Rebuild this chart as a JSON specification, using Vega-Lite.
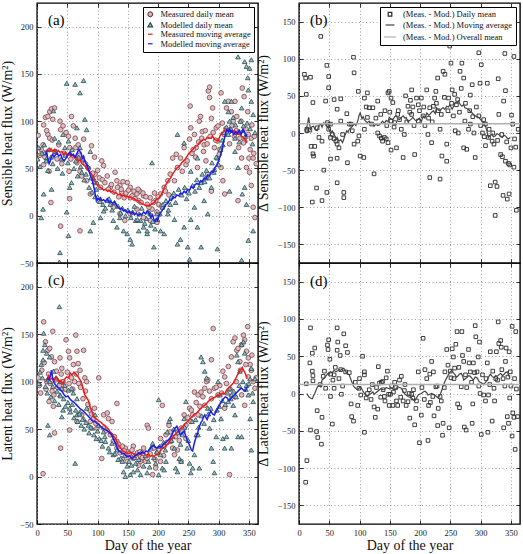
{
  "$schema": "https://vega.github.io/schema/vega-lite/v6.json",
  "background": "white",
  "padding": {"left": 0, "top": 1, "right": 3, "bottom": 0},
  "columns": 2,
  "spacing": {"row": 0, "column": 41},
  "bounds": "flush",
  "align": "each",
  "resolve": {
    "scale": {"stroke": "independent", "fill": "independent", "shape": "independent", "size": "independent"},
    "legend": {"stroke": "independent", "fill": "independent", "shape": "independent", "size": "independent"}
  },
  "datasets": {
    "sensMeas": [{"d":10,"v":75},{"d":11,"v":96},{"d":14,"v":104},{"d":21,"v":110},{"d":24,"v":113},{"d":29,"v":114},{"d":18,"v":105},{"d":26,"v":102},{"d":18,"v":86},{"d":21,"v":82},{"d":11,"v":54},{"d":20,"v":47},{"d":23,"v":14},{"d":39,"v":-11},{"d":38,"v":100},{"d":43,"v":95},{"d":39,"v":91},{"d":52,"v":84},{"d":57,"v":105},{"d":54,"v":72},{"d":63,"v":82},{"d":64,"v":72},{"d":68,"v":75},{"d":77,"v":81},{"d":71,"v":47},{"d":74,"v":42},{"d":90,"v":74},{"d":53,"v":47},{"d":54,"v":18},{"d":71,"v":-16},{"d":88,"v":23},{"d":82,"v":37},{"d":96,"v":44},{"d":107,"v":58},{"d":110,"v":53},{"d":116,"v":42},{"d":105,"v":30},{"d":101,"v":16},{"d":121,"v":30},{"d":129,"v":46},{"d":132,"v":37},{"d":137,"v":32},{"d":140,"v":25},{"d":144,"v":19},{"d":149,"v":35},{"d":154,"v":30},{"d":154,"v":19},{"d":160,"v":26},{"d":165,"v":23},{"d":168,"v":16},{"d":170,"v":26},{"d":176,"v":21},{"d":182,"v":12},{"d":187,"v":19},{"d":190,"v":7},{"d":196,"v":16},{"d":198,"v":4},{"d":201,"v":12},{"d":126,"v":9},{"d":137,"v":2},{"d":145,"v":-5},{"d":154,"v":2},{"d":165,"v":7},{"d":176,"v":-2},{"d":187,"v":-5},{"d":198,"v":-7},{"d":204,"v":23},{"d":210,"v":30},{"d":216,"v":37},{"d":220,"v":44},{"d":224,"v":61},{"d":230,"v":65},{"d":232,"v":51},{"d":237,"v":61},{"d":243,"v":72},{"d":246,"v":54},{"d":252,"v":81},{"d":254,"v":93},{"d":253,"v":116},{"d":260,"v":86},{"d":263,"v":72},{"d":265,"v":51},{"d":268,"v":100},{"d":270,"v":105},{"d":273,"v":89},{"d":276,"v":75},{"d":279,"v":58},{"d":282,"v":44},{"d":283,"v":132},{"d":285,"v":136},{"d":285,"v":125},{"d":288,"v":103},{"d":290,"v":114},{"d":293,"v":72},{"d":296,"v":93},{"d":298,"v":79},{"d":301,"v":65},{"d":304,"v":130},{"d":304,"v":51},{"d":307,"v":37},{"d":310,"v":23},{"d":313,"v":114},{"d":316,"v":121},{"d":321,"v":110},{"d":324,"v":100},{"d":327,"v":121},{"d":330,"v":105},{"d":332,"v":89},{"d":335,"v":82},{"d":338,"v":61},{"d":339,"v":135},{"d":342,"v":126},{"d":343,"v":79},{"d":346,"v":51},{"d":348,"v":110},{"d":350,"v":61},{"d":351,"v":46},{"d":354,"v":82},{"d":357,"v":61},{"d":359,"v":84},{"d":360,"v":-2},{"d":357,"v":9},{"d":354,"v":32},{"d":332,"v":16},{"d":288,"v":26},{"d":227,"v":37},{"d":100,"v":48},{"d":103,"v":40},{"d":108,"v":38},{"d":112,"v":35},{"d":118,"v":28},{"d":123,"v":33},{"d":127,"v":25},{"d":133,"v":30},{"d":135,"v":20},{"d":139,"v":28},{"d":142,"v":36},{"d":147,"v":24},{"d":151,"v":27},{"d":157,"v":21},{"d":162,"v":18},{"d":167,"v":28},{"d":172,"v":14},{"d":175,"v":24},{"d":180,"v":20},{"d":185,"v":9},{"d":192,"v":14},{"d":194,"v":24},{"d":200,"v":20},{"d":206,"v":10},{"d":212,"v":26},{"d":218,"v":22},{"d":2,"v":85},{"d":5,"v":64},{"d":7,"v":70},{"d":13,"v":62},{"d":16,"v":90},{"d":25,"v":80},{"d":30,"v":68},{"d":33,"v":60},{"d":36,"v":75},{"d":41,"v":55},{"d":45,"v":66},{"d":48,"v":88},{"d":56,"v":60},{"d":60,"v":95},{"d":66,"v":56},{"d":70,"v":64},{"d":75,"v":59},{"d":80,"v":55},{"d":85,"v":50},{"d":92,"v":45},{"d":95,"v":62},{"d":240,"v":47},{"d":248,"v":58},{"d":256,"v":66},{"d":258,"v":70},{"d":262,"v":62},{"d":267,"v":78},{"d":272,"v":82},{"d":275,"v":68},{"d":278,"v":90},{"d":281,"v":76},{"d":286,"v":84},{"d":291,"v":88},{"d":295,"v":80},{"d":299,"v":95},{"d":302,"v":70},{"d":306,"v":98},{"d":309,"v":86},{"d":312,"v":92},{"d":315,"v":88},{"d":318,"v":76},{"d":322,"v":95},{"d":326,"v":84},{"d":329,"v":90},{"d":333,"v":72},{"d":337,"v":100},{"d":341,"v":77},{"d":345,"v":92},{"d":349,"v":86},{"d":352,"v":70},{"d":355,"v":96},{"d":358,"v":66},{"d":362,"v":55}],
    "sensMod": [{"d":11,"v":23},{"d":24,"v":28},{"d":13,"v":67},{"d":16,"v":61},{"d":27,"v":111},{"d":29,"v":82},{"d":38,"v":-39},{"d":37,"v":-49},{"d":43,"v":86},{"d":49,"v":140},{"d":52,"v":79},{"d":54,"v":30},{"d":57,"v":35},{"d":63,"v":139},{"d":66,"v":93},{"d":71,"v":130},{"d":77,"v":143},{"d":71,"v":72},{"d":79,"v":102},{"d":82,"v":91},{"d":88,"v":68},{"d":93,"v":40},{"d":99,"v":35},{"d":49,"v":4},{"d":10,"v":7},{"d":7,"v":-2},{"d":52,"v":-21},{"d":88,"v":-16},{"d":93,"v":-7},{"d":105,"v":-2},{"d":110,"v":5},{"d":116,"v":16},{"d":121,"v":12},{"d":126,"v":-5},{"d":132,"v":-12},{"d":137,"v":-2},{"d":143,"v":-16},{"d":149,"v":-19},{"d":154,"v":-25},{"d":157,"v":-30},{"d":163,"v":-5},{"d":168,"v":-16},{"d":176,"v":-12},{"d":182,"v":-19},{"d":190,"v":56},{"d":187,"v":2},{"d":198,"v":2},{"d":204,"v":-16},{"d":210,"v":-19},{"d":207,"v":9},{"d":216,"v":2},{"d":220,"v":12},{"d":227,"v":-4},{"d":232,"v":-30},{"d":237,"v":-25},{"d":243,"v":-12},{"d":249,"v":-33},{"d":252,"v":-46},{"d":254,"v":-4},{"d":260,"v":9},{"d":265,"v":-12},{"d":271,"v":-33},{"d":276,"v":16},{"d":282,"v":2},{"d":232,"v":86},{"d":243,"v":77},{"d":254,"v":47},{"d":265,"v":61},{"d":271,"v":35},{"d":279,"v":40},{"d":288,"v":30},{"d":293,"v":49},{"d":298,"v":61},{"d":307,"v":75},{"d":310,"v":121},{"d":316,"v":110},{"d":318,"v":100},{"d":321,"v":121},{"d":327,"v":82},{"d":332,"v":168},{"d":338,"v":114},{"d":341,"v":95},{"d":343,"v":163},{"d":346,"v":158},{"d":348,"v":146},{"d":351,"v":156},{"d":354,"v":165},{"d":349,"v":133},{"d":354,"v":121},{"d":357,"v":107},{"d":360,"v":88},{"d":343,"v":30},{"d":346,"v":12},{"d":339,"v":23},{"d":332,"v":51},{"d":327,"v":68},{"d":318,"v":26},{"d":349,"v":-26},{"d":357,"v":-16},{"d":338,"v":-47},{"d":298,"v":-35},{"d":193,"v":-33},{"d":182,"v":-16},{"d":171,"v":-5},{"d":100,"v":20},{"d":104,"v":15},{"d":109,"v":12},{"d":113,"v":8},{"d":119,"v":18},{"d":124,"v":6},{"d":128,"v":14},{"d":134,"v":10},{"d":138,"v":3},{"d":141,"v":8},{"d":146,"v":0},{"d":150,"v":6},{"d":155,"v":-2},{"d":158,"v":4},{"d":161,"v":10},{"d":166,"v":-4},{"d":169,"v":2},{"d":173,"v":8},{"d":178,"v":-8},{"d":181,"v":-3},{"d":184,"v":4},{"d":188,"v":-10},{"d":191,"v":-6},{"d":195,"v":-14},{"d":199,"v":-4},{"d":203,"v":2},{"d":208,"v":12},{"d":213,"v":16},{"d":217,"v":6},{"d":222,"v":20},{"d":226,"v":24},{"d":229,"v":14},{"d":234,"v":28},{"d":239,"v":22},{"d":244,"v":30},{"d":247,"v":18},{"d":251,"v":24},{"d":257,"v":32},{"d":261,"v":26},{"d":264,"v":38},{"d":268,"v":30},{"d":273,"v":44},{"d":277,"v":36},{"d":280,"v":48},{"d":285,"v":40},{"d":289,"v":56},{"d":292,"v":46},{"d":296,"v":62},{"d":300,"v":54},{"d":303,"v":70},{"d":306,"v":80},{"d":309,"v":88},{"d":313,"v":94},{"d":316,"v":86},{"d":320,"v":92},{"d":324,"v":104},{"d":328,"v":96},{"d":331,"v":88},{"d":334,"v":78},{"d":336,"v":100},{"d":340,"v":90},{"d":344,"v":84},{"d":347,"v":98},{"d":352,"v":92},{"d":356,"v":76},{"d":1,"v":60},{"d":3,"v":72},{"d":5,"v":52},{"d":8,"v":66},{"d":12,"v":75},{"d":15,"v":58},{"d":18,"v":48},{"d":20,"v":70},{"d":23,"v":62},{"d":26,"v":55},{"d":31,"v":68},{"d":34,"v":50},{"d":36,"v":78},{"d":40,"v":60},{"d":42,"v":45},{"d":46,"v":72},{"d":47,"v":64},{"d":51,"v":56},{"d":55,"v":66},{"d":58,"v":70},{"d":61,"v":50},{"d":64,"v":58},{"d":67,"v":42},{"d":69,"v":62},{"d":72,"v":52},{"d":74,"v":46},{"d":76,"v":60},{"d":78,"v":38},{"d":81,"v":44},{"d":84,"v":52},{"d":86,"v":30},{"d":89,"v":40},{"d":91,"v":25},{"d":94,"v":36},{"d":96,"v":20},{"d":98,"v":28}],
    "sensMeasAvg": [{"d":14,"v":66},{"d":17,"v":70},{"d":20,"v":68},{"d":23,"v":71},{"d":26,"v":68},{"d":29,"v":70},{"d":32,"v":66},{"d":35,"v":69},{"d":38,"v":67},{"d":41,"v":68},{"d":44,"v":65},{"d":47,"v":67},{"d":50,"v":64},{"d":53,"v":66},{"d":56,"v":63},{"d":59,"v":64},{"d":62,"v":61},{"d":65,"v":62},{"d":68,"v":58},{"d":71,"v":59},{"d":74,"v":55},{"d":77,"v":54},{"d":80,"v":52},{"d":83,"v":49},{"d":86,"v":47},{"d":89,"v":45},{"d":92,"v":42},{"d":95,"v":38},{"d":98,"v":34},{"d":101,"v":31},{"d":104,"v":30},{"d":107,"v":29},{"d":110,"v":27},{"d":113,"v":28},{"d":116,"v":26},{"d":119,"v":27},{"d":122,"v":25},{"d":125,"v":26},{"d":128,"v":24},{"d":131,"v":24},{"d":134,"v":22},{"d":137,"v":23},{"d":140,"v":21},{"d":143,"v":22},{"d":146,"v":20},{"d":149,"v":21},{"d":152,"v":19},{"d":155,"v":20},{"d":158,"v":18},{"d":161,"v":18},{"d":164,"v":16},{"d":167,"v":16},{"d":170,"v":14},{"d":173,"v":13},{"d":176,"v":12},{"d":179,"v":11},{"d":182,"v":11},{"d":185,"v":10},{"d":188,"v":12},{"d":191,"v":13},{"d":194,"v":14},{"d":197,"v":17},{"d":200,"v":18},{"d":203,"v":20},{"d":206,"v":23},{"d":209,"v":28},{"d":212,"v":32},{"d":215,"v":35},{"d":218,"v":38},{"d":221,"v":40},{"d":224,"v":44},{"d":227,"v":47},{"d":230,"v":50},{"d":233,"v":51},{"d":236,"v":53},{"d":239,"v":56},{"d":242,"v":58},{"d":245,"v":60},{"d":248,"v":63},{"d":251,"v":66},{"d":254,"v":68},{"d":257,"v":70},{"d":260,"v":72},{"d":263,"v":74},{"d":266,"v":75},{"d":269,"v":78},{"d":272,"v":79},{"d":275,"v":81},{"d":278,"v":80},{"d":281,"v":83},{"d":284,"v":82},{"d":287,"v":82},{"d":290,"v":84},{"d":293,"v":81},{"d":296,"v":80},{"d":299,"v":79},{"d":302,"v":84},{"d":305,"v":88},{"d":308,"v":89},{"d":311,"v":91},{"d":314,"v":90},{"d":317,"v":91},{"d":320,"v":89},{"d":323,"v":88},{"d":326,"v":90},{"d":329,"v":87},{"d":332,"v":86},{"d":335,"v":87},{"d":338,"v":84},{"d":341,"v":83},{"d":344,"v":80},{"d":347,"v":77}],
    "sensModAvg": [{"d":14,"v":64},{"d":16,"v":67},{"d":18,"v":60},{"d":20,"v":55},{"d":22,"v":58},{"d":24,"v":63},{"d":26,"v":65},{"d":28,"v":62},{"d":30,"v":64},{"d":33,"v":66},{"d":36,"v":63},{"d":39,"v":65},{"d":42,"v":60},{"d":45,"v":58},{"d":48,"v":61},{"d":51,"v":65},{"d":54,"v":67},{"d":57,"v":64},{"d":60,"v":65},{"d":63,"v":62},{"d":66,"v":66},{"d":69,"v":70},{"d":71,"v":68},{"d":73,"v":66},{"d":75,"v":61},{"d":77,"v":63},{"d":79,"v":58},{"d":81,"v":55},{"d":83,"v":53},{"d":85,"v":49},{"d":87,"v":45},{"d":89,"v":41},{"d":91,"v":38},{"d":93,"v":33},{"d":95,"v":27},{"d":97,"v":20},{"d":99,"v":16},{"d":101,"v":18},{"d":103,"v":17},{"d":105,"v":19},{"d":107,"v":16},{"d":110,"v":17},{"d":113,"v":15},{"d":116,"v":18},{"d":119,"v":14},{"d":122,"v":15},{"d":125,"v":13},{"d":128,"v":15},{"d":131,"v":11},{"d":134,"v":9},{"d":137,"v":7},{"d":140,"v":8},{"d":143,"v":5},{"d":146,"v":6},{"d":149,"v":3},{"d":152,"v":5},{"d":155,"v":2},{"d":158,"v":4},{"d":161,"v":1},{"d":164,"v":3},{"d":167,"v":0},{"d":170,"v":2},{"d":173,"v":1},{"d":176,"v":4},{"d":179,"v":2},{"d":182,"v":5},{"d":185,"v":3},{"d":188,"v":-2},{"d":191,"v":1},{"d":193,"v":-4},{"d":195,"v":-6},{"d":197,"v":-3},{"d":199,"v":-5},{"d":201,"v":-1},{"d":204,"v":3},{"d":207,"v":6},{"d":210,"v":8},{"d":213,"v":12},{"d":216,"v":13},{"d":219,"v":17},{"d":222,"v":16},{"d":225,"v":20},{"d":228,"v":19},{"d":231,"v":22},{"d":234,"v":21},{"d":237,"v":24},{"d":240,"v":23},{"d":243,"v":26},{"d":246,"v":24},{"d":249,"v":28},{"d":252,"v":27},{"d":255,"v":31},{"d":258,"v":29},{"d":261,"v":33},{"d":264,"v":34},{"d":267,"v":33},{"d":270,"v":37},{"d":273,"v":36},{"d":276,"v":40},{"d":279,"v":39},{"d":282,"v":43},{"d":285,"v":42},{"d":288,"v":47},{"d":291,"v":46},{"d":294,"v":51},{"d":297,"v":54},{"d":300,"v":58},{"d":302,"v":62},{"d":304,"v":66},{"d":306,"v":70},{"d":308,"v":78},{"d":310,"v":83},{"d":312,"v":88},{"d":314,"v":91},{"d":316,"v":89},{"d":318,"v":92},{"d":320,"v":88},{"d":322,"v":90},{"d":325,"v":86},{"d":328,"v":89},{"d":331,"v":87},{"d":334,"v":90},{"d":337,"v":86},{"d":340,"v":91},{"d":343,"v":88},{"d":345,"v":84},{"d":347,"v":86}],
    "latMeas": [{"d":11,"v":163},{"d":14,"v":142},{"d":18,"v":133},{"d":21,"v":135},{"d":26,"v":153},{"d":24,"v":126},{"d":29,"v":121},{"d":32,"v":111},{"d":38,"v":125},{"d":41,"v":114},{"d":48,"v":144},{"d":52,"v":132},{"d":54,"v":125},{"d":60,"v":118},{"d":64,"v":149},{"d":66,"v":132},{"d":68,"v":119},{"d":71,"v":112},{"d":77,"v":133},{"d":79,"v":104},{"d":82,"v":100},{"d":102,"v":104},{"d":16,"v":100},{"d":20,"v":79},{"d":27,"v":74},{"d":29,"v":46},{"d":39,"v":30},{"d":10,"v":3},{"d":54,"v":49},{"d":66,"v":58},{"d":74,"v":65},{"d":88,"v":58},{"d":93,"v":61},{"d":99,"v":51},{"d":110,"v":65},{"d":116,"v":67},{"d":118,"v":61},{"d":124,"v":58},{"d":132,"v":77},{"d":107,"v":19},{"d":126,"v":37},{"d":132,"v":30},{"d":137,"v":25},{"d":141,"v":19},{"d":146,"v":30},{"d":149,"v":16},{"d":154,"v":21},{"d":159,"v":32},{"d":166,"v":25},{"d":168,"v":12},{"d":171,"v":21},{"d":176,"v":30},{"d":182,"v":54},{"d":184,"v":51},{"d":179,"v":16},{"d":191,"v":2},{"d":196,"v":9},{"d":199,"v":25},{"d":204,"v":16},{"d":207,"v":75},{"d":210,"v":32},{"d":218,"v":54},{"d":220,"v":47},{"d":227,"v":23},{"d":232,"v":28},{"d":238,"v":16},{"d":243,"v":65},{"d":246,"v":40},{"d":252,"v":72},{"d":257,"v":65},{"d":260,"v":89},{"d":266,"v":86},{"d":271,"v":89},{"d":277,"v":93},{"d":280,"v":100},{"d":282,"v":102},{"d":288,"v":123},{"d":291,"v":156},{"d":293,"v":93},{"d":302,"v":96},{"d":307,"v":111},{"d":310,"v":105},{"d":316,"v":116},{"d":318,"v":2},{"d":321,"v":126},{"d":324,"v":142},{"d":327,"v":146},{"d":330,"v":133},{"d":332,"v":135},{"d":335,"v":121},{"d":338,"v":139},{"d":341,"v":149},{"d":343,"v":144},{"d":346,"v":132},{"d":348,"v":158},{"d":349,"v":125},{"d":352,"v":118},{"d":354,"v":112},{"d":357,"v":100},{"d":360,"v":93},{"d":349,"v":105},{"d":343,"v":75},{"d":338,"v":86},{"d":327,"v":84},{"d":310,"v":72},{"d":299,"v":86},{"d":288,"v":82},{"d":277,"v":75},{"d":266,"v":65},{"d":254,"v":58},{"d":246,"v":54},{"d":238,"v":51},{"d":232,"v":47},{"d":221,"v":37},{"d":213,"v":44},{"d":204,"v":40},{"d":193,"v":30},{"d":182,"v":19},{"d":171,"v":16},{"d":159,"v":19},{"d":149,"v":26},{"d":141,"v":32},{"d":132,"v":37},{"d":121,"v":44},{"d":110,"v":51},{"d":2,"v":104},{"d":4,"v":96},{"d":6,"v":88},{"d":8,"v":112},{"d":12,"v":120},{"d":15,"v":92},{"d":19,"v":108},{"d":22,"v":98},{"d":25,"v":90},{"d":28,"v":86},{"d":31,"v":102},{"d":34,"v":94},{"d":37,"v":96},{"d":40,"v":108},{"d":43,"v":100},{"d":46,"v":92},{"d":50,"v":110},{"d":53,"v":98},{"d":57,"v":104},{"d":59,"v":92},{"d":62,"v":100},{"d":65,"v":108},{"d":69,"v":98},{"d":72,"v":94},{"d":76,"v":82},{"d":80,"v":90},{"d":84,"v":76},{"d":87,"v":70},{"d":90,"v":66},{"d":95,"v":72},{"d":97,"v":56},{"d":113,"v":48},{"d":128,"v":42},{"d":135,"v":34},{"d":144,"v":27},{"d":152,"v":24},{"d":157,"v":28},{"d":162,"v":22},{"d":170,"v":26},{"d":174,"v":20},{"d":187,"v":24},{"d":195,"v":18},{"d":201,"v":28},{"d":209,"v":22},{"d":215,"v":36},{"d":224,"v":30},{"d":229,"v":42},{"d":235,"v":38},{"d":241,"v":48},{"d":249,"v":62},{"d":255,"v":70},{"d":263,"v":78},{"d":269,"v":74},{"d":274,"v":84},{"d":285,"v":90},{"d":296,"v":94},{"d":305,"v":88},{"d":313,"v":98},{"d":319,"v":92},{"d":329,"v":100},{"d":336,"v":112},{"d":345,"v":118},{"d":355,"v":128},{"d":362,"v":104}],
    "latMod": [{"d":11,"v":151},{"d":10,"v":133},{"d":10,"v":123},{"d":13,"v":139},{"d":16,"v":130},{"d":21,"v":126},{"d":37,"v":179},{"d":27,"v":111},{"d":18,"v":102},{"d":21,"v":100},{"d":32,"v":104},{"d":38,"v":100},{"d":41,"v":93},{"d":46,"v":96},{"d":52,"v":91},{"d":57,"v":93},{"d":60,"v":88},{"d":66,"v":82},{"d":38,"v":86},{"d":41,"v":63},{"d":18,"v":54},{"d":21,"v":44},{"d":63,"v":14},{"d":54,"v":72},{"d":66,"v":65},{"d":71,"v":68},{"d":77,"v":61},{"d":82,"v":72},{"d":85,"v":54},{"d":91,"v":51},{"d":96,"v":65},{"d":102,"v":54},{"d":103,"v":40},{"d":110,"v":47},{"d":113,"v":37},{"d":118,"v":30},{"d":124,"v":35},{"d":126,"v":23},{"d":132,"v":28},{"d":138,"v":19},{"d":141,"v":16},{"d":143,"v":5},{"d":146,"v":0},{"d":149,"v":11},{"d":152,"v":16},{"d":154,"v":2},{"d":159,"v":5},{"d":163,"v":14},{"d":166,"v":7},{"d":171,"v":2},{"d":176,"v":11},{"d":182,"v":4},{"d":184,"v":16},{"d":188,"v":30},{"d":191,"v":35},{"d":196,"v":14},{"d":201,"v":2},{"d":204,"v":23},{"d":207,"v":9},{"d":201,"v":81},{"d":210,"v":7},{"d":213,"v":16},{"d":215,"v":47},{"d":218,"v":58},{"d":220,"v":61},{"d":224,"v":42},{"d":227,"v":30},{"d":229,"v":9},{"d":232,"v":5},{"d":235,"v":19},{"d":238,"v":16},{"d":240,"v":44},{"d":243,"v":61},{"d":246,"v":79},{"d":248,"v":30},{"d":252,"v":14},{"d":254,"v":4},{"d":257,"v":9},{"d":260,"v":23},{"d":263,"v":44},{"d":266,"v":44},{"d":268,"v":9},{"d":271,"v":126},{"d":274,"v":121},{"d":277,"v":111},{"d":280,"v":104},{"d":282,"v":72},{"d":285,"v":51},{"d":288,"v":30},{"d":291,"v":16},{"d":293,"v":4},{"d":296,"v":42},{"d":299,"v":100},{"d":302,"v":86},{"d":304,"v":61},{"d":307,"v":40},{"d":310,"v":30},{"d":313,"v":42},{"d":316,"v":79},{"d":318,"v":93},{"d":321,"v":86},{"d":324,"v":75},{"d":327,"v":65},{"d":330,"v":128},{"d":332,"v":121},{"d":335,"v":111},{"d":338,"v":139},{"d":341,"v":142},{"d":343,"v":130},{"d":346,"v":96},{"d":349,"v":86},{"d":352,"v":103},{"d":354,"v":114},{"d":357,"v":79},{"d":360,"v":103},{"d":354,"v":28},{"d":352,"v":61},{"d":332,"v":42},{"d":321,"v":30},{"d":338,"v":42},{"d":3,"v":98},{"d":5,"v":110},{"d":7,"v":118},{"d":9,"v":104},{"d":14,"v":95},{"d":17,"v":88},{"d":23,"v":84},{"d":26,"v":95},{"d":29,"v":80},{"d":33,"v":90},{"d":36,"v":76},{"d":39,"v":85},{"d":43,"v":70},{"d":44,"v":82},{"d":47,"v":74},{"d":51,"v":78},{"d":55,"v":68},{"d":58,"v":76},{"d":61,"v":62},{"d":64,"v":70},{"d":67,"v":58},{"d":70,"v":66},{"d":73,"v":54},{"d":75,"v":60},{"d":78,"v":50},{"d":81,"v":57},{"d":86,"v":46},{"d":89,"v":52},{"d":94,"v":44},{"d":98,"v":40},{"d":100,"v":48},{"d":106,"v":38},{"d":108,"v":32},{"d":112,"v":42},{"d":120,"v":26},{"d":129,"v":24},{"d":134,"v":18},{"d":145,"v":22},{"d":156,"v":12},{"d":161,"v":20},{"d":168,"v":18},{"d":173,"v":26},{"d":179,"v":22},{"d":186,"v":10},{"d":193,"v":20},{"d":198,"v":26},{"d":203,"v":32},{"d":209,"v":36},{"d":212,"v":28},{"d":222,"v":38},{"d":226,"v":50},{"d":233,"v":46},{"d":237,"v":34},{"d":244,"v":52},{"d":250,"v":38},{"d":256,"v":58},{"d":262,"v":60},{"d":267,"v":52},{"d":272,"v":64},{"d":276,"v":56},{"d":283,"v":66},{"d":287,"v":72},{"d":292,"v":60},{"d":297,"v":70},{"d":301,"v":74},{"d":306,"v":80},{"d":311,"v":76},{"d":315,"v":88},{"d":320,"v":82},{"d":325,"v":90},{"d":329,"v":84},{"d":334,"v":96},{"d":340,"v":100},{"d":345,"v":92},{"d":350,"v":98},{"d":356,"v":88}],
    "latMeasAvg": [{"d":16,"v":101},{"d":19,"v":106},{"d":22,"v":102},{"d":25,"v":104},{"d":28,"v":101},{"d":31,"v":105},{"d":34,"v":103},{"d":37,"v":99},{"d":40,"v":101},{"d":43,"v":97},{"d":46,"v":103},{"d":49,"v":105},{"d":52,"v":104},{"d":55,"v":109},{"d":58,"v":107},{"d":61,"v":110},{"d":64,"v":108},{"d":67,"v":106},{"d":70,"v":103},{"d":73,"v":100},{"d":76,"v":93},{"d":79,"v":86},{"d":82,"v":83},{"d":85,"v":80},{"d":88,"v":73},{"d":91,"v":68},{"d":94,"v":63},{"d":97,"v":61},{"d":100,"v":60},{"d":103,"v":58},{"d":106,"v":57},{"d":109,"v":55},{"d":112,"v":54},{"d":115,"v":52},{"d":118,"v":50},{"d":121,"v":47},{"d":124,"v":45},{"d":127,"v":42},{"d":130,"v":40},{"d":133,"v":35},{"d":136,"v":32},{"d":139,"v":29},{"d":142,"v":27},{"d":145,"v":26},{"d":148,"v":25},{"d":151,"v":24},{"d":154,"v":25},{"d":157,"v":25},{"d":160,"v":24},{"d":163,"v":22},{"d":166,"v":23},{"d":169,"v":25},{"d":172,"v":24},{"d":175,"v":26},{"d":178,"v":24},{"d":181,"v":22},{"d":184,"v":24},{"d":187,"v":21},{"d":190,"v":22},{"d":193,"v":21},{"d":196,"v":23},{"d":199,"v":23},{"d":202,"v":25},{"d":205,"v":28},{"d":208,"v":30},{"d":211,"v":31},{"d":214,"v":33},{"d":217,"v":35},{"d":220,"v":38},{"d":223,"v":40},{"d":226,"v":43},{"d":229,"v":45},{"d":232,"v":47},{"d":235,"v":49},{"d":238,"v":51},{"d":241,"v":53},{"d":244,"v":55},{"d":247,"v":57},{"d":250,"v":59},{"d":253,"v":61},{"d":256,"v":63},{"d":259,"v":65},{"d":262,"v":66},{"d":265,"v":68},{"d":268,"v":70},{"d":271,"v":72},{"d":274,"v":74},{"d":277,"v":75},{"d":280,"v":77},{"d":283,"v":79},{"d":286,"v":81},{"d":289,"v":82},{"d":292,"v":83},{"d":295,"v":84},{"d":298,"v":86},{"d":301,"v":85},{"d":304,"v":87},{"d":307,"v":88},{"d":310,"v":87},{"d":313,"v":91},{"d":316,"v":93},{"d":319,"v":95},{"d":322,"v":97},{"d":325,"v":99},{"d":328,"v":103},{"d":331,"v":107},{"d":334,"v":110},{"d":337,"v":113},{"d":339,"v":115},{"d":341,"v":112},{"d":343,"v":110},{"d":345,"v":107},{"d":347,"v":104}],
    "latModAvg": [{"d":16,"v":104},{"d":18,"v":103},{"d":20,"v":102},{"d":22,"v":106},{"d":24,"v":112},{"d":26,"v":103},{"d":28,"v":99},{"d":30,"v":97},{"d":33,"v":95},{"d":36,"v":93},{"d":39,"v":91},{"d":42,"v":89},{"d":45,"v":86},{"d":48,"v":84},{"d":51,"v":85},{"d":54,"v":82},{"d":57,"v":80},{"d":60,"v":79},{"d":63,"v":77},{"d":66,"v":75},{"d":69,"v":73},{"d":72,"v":71},{"d":75,"v":70},{"d":78,"v":68},{"d":81,"v":66},{"d":84,"v":64},{"d":87,"v":62},{"d":90,"v":60},{"d":93,"v":58},{"d":96,"v":58},{"d":99,"v":56},{"d":102,"v":55},{"d":105,"v":53},{"d":108,"v":51},{"d":111,"v":50},{"d":114,"v":49},{"d":117,"v":48},{"d":120,"v":46},{"d":123,"v":44},{"d":126,"v":40},{"d":129,"v":36},{"d":132,"v":31},{"d":135,"v":27},{"d":138,"v":26},{"d":141,"v":24},{"d":144,"v":24},{"d":147,"v":22},{"d":150,"v":21},{"d":153,"v":22},{"d":156,"v":19},{"d":159,"v":20},{"d":162,"v":22},{"d":165,"v":23},{"d":168,"v":25},{"d":171,"v":24},{"d":174,"v":26},{"d":177,"v":25},{"d":180,"v":27},{"d":183,"v":26},{"d":186,"v":29},{"d":189,"v":31},{"d":192,"v":33},{"d":195,"v":31},{"d":198,"v":30},{"d":201,"v":32},{"d":204,"v":31},{"d":207,"v":32},{"d":210,"v":35},{"d":213,"v":36},{"d":216,"v":38},{"d":219,"v":40},{"d":222,"v":43},{"d":225,"v":47},{"d":228,"v":51},{"d":231,"v":53},{"d":234,"v":48},{"d":237,"v":44},{"d":240,"v":46},{"d":243,"v":48},{"d":246,"v":42},{"d":249,"v":37},{"d":252,"v":33},{"d":255,"v":28},{"d":257,"v":27},{"d":259,"v":33},{"d":261,"v":38},{"d":263,"v":42},{"d":265,"v":45},{"d":267,"v":50},{"d":269,"v":54},{"d":271,"v":57},{"d":273,"v":59},{"d":275,"v":63},{"d":277,"v":65},{"d":279,"v":62},{"d":281,"v":60},{"d":284,"v":65},{"d":287,"v":69},{"d":290,"v":66},{"d":293,"v":65},{"d":296,"v":69},{"d":299,"v":72},{"d":302,"v":76},{"d":305,"v":79},{"d":308,"v":82},{"d":311,"v":84},{"d":314,"v":83},{"d":317,"v":80},{"d":320,"v":82},{"d":323,"v":84},{"d":326,"v":86},{"d":329,"v":88},{"d":332,"v":90},{"d":335,"v":92},{"d":338,"v":93},{"d":341,"v":91},{"d":344,"v":90},{"d":346,"v":93},{"d":348,"v":95}],
    "sensDiff": [{"d":9,"v":79},{"d":11,"v":74},{"d":19,"v":75},{"d":12,"v":52},{"d":23,"v":41},{"d":13,"v":5},{"d":18,"v":4},{"d":20,"v":-18},{"d":26,"v":-18},{"d":23,"v":-28},{"d":24,"v":-31},{"d":22,"v":-93},{"d":29,"v":-74},{"d":38,"v":-91},{"d":46,"v":-80},{"d":41,"v":-50},{"d":36,"v":130},{"d":46,"v":91},{"d":49,"v":76},{"d":49,"v":61},{"d":44,"v":43},{"d":47,"v":14},{"d":52,"v":12},{"d":48,"v":11},{"d":49,"v":5},{"d":58,"v":45},{"d":69,"v":46},{"d":63,"v":32},{"d":55,"v":-2},{"d":52,"v":-6},{"d":58,"v":-8},{"d":61,"v":-11},{"d":63,"v":-15},{"d":66,"v":-20},{"d":52,"v":-35},{"d":63,"v":-34},{"d":63,"v":-67},{"d":74,"v":-80},{"d":74,"v":-87},{"d":80,"v":-40},{"d":79,"v":26},{"d":86,"v":12},{"d":88,"v":3},{"d":91,"v":81},{"d":90,"v":102},{"d":98,"v":56},{"d":99,"v":-4},{"d":101,"v":-31},{"d":107,"v":-33},{"d":108,"v":47},{"d":111,"v":35},{"d":113,"v":54},{"d":116,"v":34},{"d":124,"v":-55},{"d":130,"v":0},{"d":133,"v":-4},{"d":136,"v":-7},{"d":138,"v":-11},{"d":141,"v":-6},{"d":144,"v":-8},{"d":147,"v":-13},{"d":142,"v":30},{"d":147,"v":54},{"d":149,"v":56},{"d":152,"v":47},{"d":155,"v":41},{"d":152,"v":-23},{"d":161,"v":-20},{"d":166,"v":18},{"d":172,"v":-33},{"d":176,"v":50},{"d":180,"v":36},{"d":186,"v":58},{"d":184,"v":44},{"d":188,"v":35},{"d":191,"v":-29},{"d":194,"v":47},{"d":197,"v":38},{"d":202,"v":47},{"d":205,"v":23},{"d":208,"v":10},{"d":211,"v":58},{"d":213,"v":-2},{"d":216,"v":-60},{"d":219,"v":-13},{"d":222,"v":36},{"d":224,"v":47},{"d":226,"v":56},{"d":229,"v":74},{"d":233,"v":5},{"d":233,"v":-62},{"d":236,"v":-31},{"d":238,"v":83},{"d":241,"v":79},{"d":244,"v":-38},{"d":247,"v":47},{"d":249,"v":117},{"d":251,"v":94},{"d":253,"v":58},{"d":255,"v":23},{"d":260,"v":38},{"d":263,"v":0},{"d":266,"v":83},{"d":269,"v":94},{"d":272,"v":74},{"d":272,"v":-20},{"d":277,"v":-22},{"d":280,"v":5},{"d":283,"v":12},{"d":283,"v":51},{"d":286,"v":65},{"d":289,"v":0},{"d":291,"v":-33},{"d":297,"v":108},{"d":299,"v":67},{"d":301,"v":92},{"d":305,"v":18},{"d":308,"v":-17},{"d":311,"v":67},{"d":313,"v":-6},{"d":316,"v":-71},{"d":319,"v":-11},{"d":320,"v":0},{"d":324,"v":-66},{"d":327,"v":-72},{"d":329,"v":73},{"d":330,"v":25},{"d":333,"v":-29},{"d":336,"v":-32},{"d":337,"v":-84},{"d":338,"v":43},{"d":341,"v":57},{"d":344,"v":-89},{"d":347,"v":-82},{"d":346,"v":-41},{"d":348,"v":-43},{"d":351,"v":24},{"d":353,"v":12},{"d":340,"v":107},{"d":355,"v":103},{"d":355,"v":-46},{"d":358,"v":-19},{"d":359,"v":-104},{"d":324,"v":-111},{"d":341,"v":-38},{"d":308,"v":12},{"d":303,"v":0},{"d":297,"v":23},{"d":274,"v":16},{"d":258,"v":3},{"d":244,"v":-15},{"d":230,"v":30},{"d":216,"v":34},{"d":197,"v":16},{"d":186,"v":25},{"d":174,"v":-2},{"d":163,"v":25},{"d":158,"v":14},{"d":152,"v":16},{"d":130,"v":43},{"d":122,"v":34},{"d":113,"v":21},{"d":108,"v":5},{"d":97,"v":-11},{"d":91,"v":-15},{"d":83,"v":12},{"d":72,"v":-2},{"d":69,"v":16},{"d":38,"v":-11},{"d":33,"v":-6},{"d":30,"v":7},{"d":13,"v":3},{"d":120,"v":12},{"d":127,"v":20},{"d":135,"v":25},{"d":145,"v":10},{"d":150,"v":28},{"d":157,"v":8},{"d":164,"v":30},{"d":169,"v":5},{"d":178,"v":15},{"d":183,"v":28},{"d":190,"v":10},{"d":199,"v":30},{"d":206,"v":35},{"d":214,"v":20},{"d":220,"v":15},{"d":227,"v":40},{"d":235,"v":25},{"d":240,"v":48},{"d":246,"v":30},{"d":252,"v":40},{"d":257,"v":52},{"d":262,"v":45},{"d":265,"v":28},{"d":268,"v":60},{"d":275,"v":40},{"d":282,"v":30},{"d":287,"v":22},{"d":293,"v":35},{"d":300,"v":10},{"d":306,"v":-5},{"d":314,"v":5},{"d":322,"v":-15},{"d":328,"v":-10},{"d":335,"v":-2},{"d":343,"v":-12},{"d":350,"v":-20},{"d":356,"v":-8},{"d":362,"v":5}],
    "sensDiffAvg": [{"d":12,"v":5},{"d":14,"v":12},{"d":16,"v":21},{"d":18,"v":10},{"d":19,"v":5},{"d":21,"v":8},{"d":24,"v":9},{"d":27,"v":4},{"d":30,"v":3},{"d":33,"v":10},{"d":36,"v":12},{"d":38,"v":8},{"d":41,"v":14},{"d":44,"v":11},{"d":47,"v":9},{"d":50,"v":4},{"d":52,"v":0},{"d":55,"v":3},{"d":58,"v":-2},{"d":60,"v":-5},{"d":61,"v":-8},{"d":63,"v":-6},{"d":66,"v":-11},{"d":69,"v":-9},{"d":72,"v":-13},{"d":74,"v":-8},{"d":76,"v":-3},{"d":79,"v":3},{"d":81,"v":1},{"d":83,"v":5},{"d":86,"v":7},{"d":88,"v":9},{"d":91,"v":12},{"d":94,"v":10},{"d":97,"v":16},{"d":99,"v":23},{"d":101,"v":27},{"d":102,"v":25},{"d":104,"v":19},{"d":106,"v":22},{"d":108,"v":18},{"d":111,"v":15},{"d":113,"v":14},{"d":116,"v":16},{"d":119,"v":12},{"d":122,"v":13},{"d":124,"v":9},{"d":127,"v":12},{"d":130,"v":10},{"d":133,"v":11},{"d":136,"v":14},{"d":138,"v":16},{"d":141,"v":13},{"d":144,"v":17},{"d":147,"v":15},{"d":149,"v":21},{"d":152,"v":19},{"d":155,"v":18},{"d":158,"v":22},{"d":161,"v":23},{"d":163,"v":19},{"d":166,"v":18},{"d":169,"v":21},{"d":172,"v":23},{"d":175,"v":20},{"d":177,"v":21},{"d":180,"v":15},{"d":183,"v":17},{"d":186,"v":19},{"d":188,"v":21},{"d":191,"v":18},{"d":194,"v":16},{"d":197,"v":19},{"d":199,"v":20},{"d":202,"v":15},{"d":205,"v":23},{"d":208,"v":20},{"d":211,"v":27},{"d":214,"v":24},{"d":216,"v":25},{"d":219,"v":28},{"d":222,"v":30},{"d":225,"v":26},{"d":227,"v":34},{"d":230,"v":31},{"d":233,"v":30},{"d":236,"v":33},{"d":238,"v":34},{"d":241,"v":32},{"d":244,"v":36},{"d":247,"v":35},{"d":249,"v":38},{"d":251,"v":35},{"d":253,"v":32},{"d":256,"v":37},{"d":258,"v":41},{"d":261,"v":40},{"d":263,"v":43},{"d":266,"v":39},{"d":269,"v":36},{"d":272,"v":38},{"d":274,"v":34},{"d":277,"v":33},{"d":280,"v":32},{"d":283,"v":29},{"d":286,"v":27},{"d":289,"v":24},{"d":291,"v":23},{"d":294,"v":22},{"d":297,"v":21},{"d":300,"v":18},{"d":302,"v":16},{"d":305,"v":13},{"d":308,"v":9},{"d":310,"v":4},{"d":311,"v":0},{"d":313,"v":-6},{"d":316,"v":-3},{"d":319,"v":-2},{"d":321,"v":-5},{"d":324,"v":-4},{"d":327,"v":-1},{"d":330,"v":-2},{"d":333,"v":-5},{"d":336,"v":-6},{"d":338,"v":-3},{"d":341,"v":-4},{"d":344,"v":-7},{"d":346,"v":-8},{"d":349,"v":-6}],
    "latDiff": [{"d":11,"v":-119},{"d":13,"v":-90},{"d":19,"v":88},{"d":18,"v":41},{"d":22,"v":54},{"d":26,"v":61},{"d":22,"v":30},{"d":23,"v":24},{"d":23,"v":17},{"d":12,"v":13},{"d":19,"v":-49},{"d":29,"v":-51},{"d":30,"v":-23},{"d":31,"v":-59},{"d":37,"v":-68},{"d":38,"v":-32},{"d":40,"v":23},{"d":44,"v":7},{"d":47,"v":65},{"d":48,"v":59},{"d":49,"v":72},{"d":51,"v":46},{"d":52,"v":26},{"d":52,"v":-4},{"d":55,"v":-41},{"d":58,"v":25},{"d":58,"v":7},{"d":63,"v":88},{"d":64,"v":69},{"d":63,"v":58},{"d":68,"v":51},{"d":70,"v":-1},{"d":69,"v":32},{"d":74,"v":80},{"d":77,"v":64},{"d":80,"v":55},{"d":77,"v":29},{"d":86,"v":-14},{"d":87,"v":-31},{"d":90,"v":-37},{"d":97,"v":-16},{"d":99,"v":7},{"d":102,"v":-2},{"d":105,"v":50},{"d":108,"v":29},{"d":108,"v":25},{"d":108,"v":-52},{"d":111,"v":-6},{"d":113,"v":0},{"d":124,"v":-18},{"d":126,"v":-32},{"d":130,"v":-21},{"d":131,"v":36},{"d":133,"v":14},{"d":136,"v":15},{"d":138,"v":16},{"d":141,"v":-4},{"d":142,"v":-10},{"d":144,"v":21},{"d":146,"v":30},{"d":148,"v":-1},{"d":149,"v":-16},{"d":151,"v":-1},{"d":155,"v":-16},{"d":158,"v":15},{"d":161,"v":-10},{"d":163,"v":-16},{"d":166,"v":18},{"d":169,"v":23},{"d":172,"v":-10},{"d":174,"v":4},{"d":177,"v":-16},{"d":180,"v":-11},{"d":183,"v":-33},{"d":186,"v":-1},{"d":188,"v":-6},{"d":191,"v":-42},{"d":194,"v":-10},{"d":197,"v":29},{"d":199,"v":-66},{"d":202,"v":-29},{"d":205,"v":74},{"d":208,"v":32},{"d":211,"v":20},{"d":213,"v":-63},{"d":214,"v":-16},{"d":216,"v":26},{"d":219,"v":43},{"d":222,"v":29},{"d":223,"v":-30},{"d":226,"v":9},{"d":229,"v":-43},{"d":230,"v":-20},{"d":233,"v":-4},{"d":237,"v":-56},{"d":238,"v":-40},{"d":241,"v":29},{"d":244,"v":59},{"d":246,"v":38},{"d":248,"v":-46},{"d":251,"v":21},{"d":253,"v":60},{"d":255,"v":49},{"d":257,"v":34},{"d":259,"v":66},{"d":261,"v":83},{"d":262,"v":-14},{"d":265,"v":-19},{"d":268,"v":9},{"d":269,"v":83},{"d":270,"v":51},{"d":272,"v":43},{"d":273,"v":-45},{"d":276,"v":-49},{"d":277,"v":8},{"d":280,"v":59},{"d":281,"v":41},{"d":283,"v":29},{"d":286,"v":-40},{"d":287,"v":-14},{"d":288,"v":41},{"d":291,"v":91},{"d":292,"v":76},{"d":294,"v":29},{"d":296,"v":49},{"d":298,"v":69},{"d":299,"v":0},{"d":301,"v":-55},{"d":305,"v":-2},{"d":308,"v":-10},{"d":311,"v":41},{"d":312,"v":-52},{"d":313,"v":-2},{"d":316,"v":56},{"d":319,"v":-37},{"d":322,"v":7},{"d":323,"v":-10},{"d":325,"v":20},{"d":326,"v":56},{"d":329,"v":96},{"d":330,"v":67},{"d":333,"v":71},{"d":334,"v":62},{"d":337,"v":20},{"d":338,"v":-46},{"d":341,"v":43},{"d":342,"v":61},{"d":344,"v":-31},{"d":346,"v":-40},{"d":347,"v":56},{"d":349,"v":29},{"d":352,"v":90},{"d":353,"v":-26},{"d":355,"v":-32},{"d":357,"v":-75},{"d":358,"v":83},{"d":359,"v":6},{"d":361,"v":-31},{"d":352,"v":-57},{"d":348,"v":-6},{"d":35,"v":12},{"d":42,"v":30},{"d":56,"v":18},{"d":60,"v":35},{"d":66,"v":20},{"d":72,"v":10},{"d":83,"v":28},{"d":93,"v":15},{"d":100,"v":20},{"d":116,"v":5},{"d":119,"v":-8},{"d":121,"v":12},{"d":128,"v":8},{"d":135,"v":-5},{"d":139,"v":5},{"d":153,"v":10},{"d":156,"v":2},{"d":160,"v":8},{"d":168,"v":-5},{"d":175,"v":12},{"d":182,"v":0},{"d":189,"v":5},{"d":193,"v":-20},{"d":203,"v":8},{"d":207,"v":-8},{"d":217,"v":-12},{"d":221,"v":-4},{"d":228,"v":10},{"d":235,"v":-10},{"d":240,"v":8},{"d":250,"v":30},{"d":256,"v":20},{"d":264,"v":35},{"d":275,"v":25},{"d":285,"v":15},{"d":290,"v":28},{"d":297,"v":10},{"d":303,"v":25},{"d":309,"v":20},{"d":315,"v":12},{"d":320,"v":30},{"d":328,"v":18},{"d":335,"v":32},{"d":340,"v":10},{"d":345,"v":22},{"d":350,"v":10},{"d":356,"v":20}],
    "latDiffAvg": [{"d":13,"v":0},{"d":15,"v":-3},{"d":17,"v":-5},{"d":19,"v":-6},{"d":22,"v":-7},{"d":24,"v":-3},{"d":26,"v":0},{"d":28,"v":4},{"d":30,"v":8},{"d":33,"v":12},{"d":35,"v":10},{"d":36,"v":9},{"d":38,"v":18},{"d":41,"v":20},{"d":44,"v":23},{"d":46,"v":25},{"d":48,"v":27},{"d":50,"v":26},{"d":52,"v":29},{"d":55,"v":28},{"d":58,"v":31},{"d":61,"v":29},{"d":63,"v":30},{"d":66,"v":32},{"d":69,"v":31},{"d":71,"v":33},{"d":74,"v":34},{"d":76,"v":31},{"d":79,"v":27},{"d":81,"v":26},{"d":83,"v":25},{"d":86,"v":18},{"d":88,"v":14},{"d":90,"v":10},{"d":92,"v":8},{"d":95,"v":6},{"d":97,"v":5},{"d":100,"v":8},{"d":102,"v":9},{"d":105,"v":4},{"d":108,"v":0},{"d":110,"v":-2},{"d":113,"v":-4},{"d":116,"v":-1},{"d":119,"v":0},{"d":122,"v":2},{"d":124,"v":-1},{"d":127,"v":1},{"d":130,"v":3},{"d":133,"v":5},{"d":136,"v":7},{"d":138,"v":5},{"d":141,"v":5},{"d":144,"v":8},{"d":147,"v":7},{"d":150,"v":6},{"d":152,"v":8},{"d":155,"v":6},{"d":158,"v":5},{"d":161,"v":7},{"d":163,"v":9},{"d":166,"v":8},{"d":169,"v":7},{"d":171,"v":4},{"d":174,"v":0},{"d":177,"v":-2},{"d":180,"v":-4},{"d":183,"v":-5},{"d":186,"v":-6},{"d":188,"v":-8},{"d":191,"v":-10},{"d":194,"v":-6},{"d":197,"v":-2},{"d":199,"v":-1},{"d":202,"v":0},{"d":205,"v":2},{"d":208,"v":3},{"d":211,"v":1},{"d":213,"v":-2},{"d":216,"v":-1},{"d":219,"v":0},{"d":222,"v":-1},{"d":224,"v":-2},{"d":227,"v":-4},{"d":230,"v":-6},{"d":232,"v":-3},{"d":234,"v":0},{"d":236,"v":5},{"d":238,"v":10},{"d":240,"v":14},{"d":242,"v":18},{"d":244,"v":21},{"d":246,"v":24},{"d":248,"v":27},{"d":250,"v":29},{"d":252,"v":31},{"d":254,"v":29},{"d":256,"v":27},{"d":258,"v":25},{"d":260,"v":22},{"d":262,"v":23},{"d":265,"v":26},{"d":268,"v":27},{"d":270,"v":24},{"d":272,"v":18},{"d":275,"v":20},{"d":277,"v":21},{"d":280,"v":24},{"d":283,"v":23},{"d":286,"v":20},{"d":288,"v":18},{"d":291,"v":22},{"d":294,"v":21},{"d":297,"v":17},{"d":299,"v":15},{"d":302,"v":14},{"d":305,"v":12},{"d":308,"v":15},{"d":311,"v":18},{"d":313,"v":22},{"d":316,"v":26},{"d":319,"v":23},{"d":322,"v":21},{"d":325,"v":24},{"d":327,"v":23},{"d":330,"v":25},{"d":333,"v":27},{"d":336,"v":24},{"d":338,"v":25},{"d":341,"v":28},{"d":344,"v":29},{"d":346,"v":25},{"d":348,"v":21}]
  },
  "concat": [
    {
      "width": 221,
      "height": 260,
      "resolve": {"axis": {"x": "independent", "y": "independent"}},
      "layer": [
        {
          "data": {"name": "sensMeas"},
          "mark": {"type": "point", "filled": true, "strokeWidth": 0.8, "opacity": 1, "clip": true},
          "encoding": {
            "x": {"field": "d", "type": "quantitative", "scale": {"domain": [0, 365], "nice": false, "zero": false}, "axis": {"orient": "bottom", "values": [0, 50, 100, 150, 200, 250, 300, 350], "labels": false, "title": null}},
            "y": {"field": "v", "type": "quantitative", "scale": {"domain": [-50, 225], "nice": false, "zero": false}, "axis": {"orient": "left", "values": [-50, 0, 50, 100, 150, 200], "title": "Sensible heat flux (W/m²)", "titlePadding": 5}},
            "stroke": {
              "datum": "Measured daily mean",
              "type": "nominal",
              "scale": {"domain": ["Measured daily mean", "Modelled daily mean", "Measured moving average", "Modelled moving average"], "range": ["#7e4048", "#284a50", "#f01c1c", "#1c1cf0"]},
              "legend": {"orient": "top-right", "offset": 4, "title": null, "padding": 3, "labelOffset": 6, "symbolStrokeWidth": 1.2, "rowPadding": 0.5}
            },
            "fill": {
              "datum": "Measured daily mean",
              "type": "nominal",
              "scale": {"domain": ["Measured daily mean", "Modelled daily mean", "Measured moving average", "Modelled moving average"], "range": ["#dcbfc2", "#98bfc4", "transparent", "transparent"]}
            },
            "shape": {
              "datum": "Measured daily mean",
              "type": "nominal",
              "scale": {"domain": ["Measured daily mean", "Modelled daily mean", "Measured moving average", "Modelled moving average"], "range": ["circle", "triangle-up", "stroke", "stroke"]}
            },
            "size": {
              "datum": "Measured daily mean",
              "type": "nominal",
              "scale": {"domain": ["Measured daily mean", "Modelled daily mean", "Measured moving average", "Modelled moving average"], "range": [22, 22, 150, 150]}
            }
          }
        },
        {
          "data": {"name": "sensMod"},
          "mark": {"type": "point", "filled": true, "strokeWidth": 0.8, "opacity": 1, "clip": true},
          "encoding": {
            "x": {"field": "d", "type": "quantitative", "axis": null},
            "y": {"field": "v", "type": "quantitative", "axis": null},
            "stroke": {"datum": "Modelled daily mean", "type": "nominal"},
            "fill": {"datum": "Modelled daily mean", "type": "nominal"},
            "shape": {"datum": "Modelled daily mean", "type": "nominal"},
            "size": {"datum": "Modelled daily mean", "type": "nominal"}
          }
        },
        {
          "data": {"name": "sensMeasAvg"},
          "mark": {"type": "line", "strokeWidth": 1.5, "clip": true},
          "encoding": {
            "x": {"field": "d", "type": "quantitative", "axis": null},
            "y": {"field": "v", "type": "quantitative", "axis": null},
            "stroke": {"datum": "Measured moving average", "type": "nominal"}
          }
        },
        {
          "data": {"name": "sensModAvg"},
          "mark": {"type": "line", "strokeWidth": 1.5, "clip": true},
          "encoding": {
            "x": {"field": "d", "type": "quantitative", "axis": null},
            "y": {"field": "v", "type": "quantitative", "axis": null},
            "stroke": {"datum": "Modelled moving average", "type": "nominal"}
          }
        },
        {
          "data": {"values": [{"t": "(a)"}]},
          "mark": {"type": "text", "align": "left", "baseline": "middle", "fontSize": 15, "font": "Liberation Serif"},
          "encoding": {
            "x": {"datum": 18, "type": "quantitative", "axis": {"orient": "top", "values": [0, 50, 100, 150, 200, 250, 300, 350], "labels": false, "grid": false, "title": null}},
            "y": {"datum": 207, "type": "quantitative", "axis": {"orient": "right", "values": [-50, 0, 50, 100, 150, 200], "labels": false, "grid": false, "title": null}},
            "text": {"field": "t"}
          }
        }
      ]
    },
    {
      "width": 221,
      "height": 260,
      "resolve": {"axis": {"x": "independent", "y": "independent"}},
      "layer": [
        {
          "data": {"name": "sensDiff"},
          "mark": {"type": "point", "filled": false, "strokeWidth": 0.9, "opacity": 1, "clip": true},
          "encoding": {
            "x": {"field": "d", "type": "quantitative", "scale": {"domain": [0, 365], "nice": false, "zero": false}, "axis": {"orient": "bottom", "values": [0, 50, 100, 150, 200, 250, 300, 350], "labels": false, "title": null}},
            "y": {"field": "v", "type": "quantitative", "scale": {"domain": [-175, 175], "nice": false, "zero": false}, "axis": {"orient": "left", "values": [-150, -100, -50, 0, 50, 100, 150], "title": "Δ Sensible heat flux (W/m²)", "titlePadding": 7}},
            "stroke": {
              "datum": "(Meas. - Mod.) Daily mean",
              "type": "nominal",
              "scale": {"domain": ["(Meas. - Mod.) Daily mean", "(Meas. - Mod.) Moving average", "(Meas. - Mod.) Overall mean"], "range": ["#2a2a2a", "#454545", "#b0b0b0"]},
              "legend": {"orient": "top-right", "offset": 4, "title": null, "padding": 3, "labelOffset": 6, "symbolStrokeWidth": 1.2, "rowPadding": 0.5}
            },
            "shape": {
              "datum": "(Meas. - Mod.) Daily mean",
              "type": "nominal",
              "scale": {"domain": ["(Meas. - Mod.) Daily mean", "(Meas. - Mod.) Moving average", "(Meas. - Mod.) Overall mean"], "range": ["square", "stroke", "stroke"]}
            },
            "size": {
              "datum": "(Meas. - Mod.) Daily mean",
              "type": "nominal",
              "scale": {"domain": ["(Meas. - Mod.) Daily mean", "(Meas. - Mod.) Moving average", "(Meas. - Mod.) Overall mean"], "range": [13, 150, 150]}
            }
          }
        },
        {
          "data": {"name": "sensDiffAvg"},
          "mark": {"type": "line", "strokeWidth": 1.2, "clip": true},
          "encoding": {
            "x": {"field": "d", "type": "quantitative", "axis": null},
            "y": {"field": "v", "type": "quantitative", "axis": null},
            "stroke": {"datum": "(Meas. - Mod.) Moving average", "type": "nominal"}
          }
        },
        {
          "data": {"values": [{"m": 12.5}]},
          "mark": {"type": "rule", "strokeWidth": 1.6},
          "encoding": {
            "y": {"field": "m", "type": "quantitative", "axis": null},
            "stroke": {"datum": "(Meas. - Mod.) Overall mean", "type": "nominal"}
          }
        },
        {
          "data": {"values": [{"t": "(b)"}]},
          "mark": {"type": "text", "align": "left", "baseline": "middle", "fontSize": 15, "font": "Liberation Serif"},
          "encoding": {
            "x": {"datum": 18, "type": "quantitative", "axis": {"orient": "top", "values": [0, 50, 100, 150, 200, 250, 300, 350], "labels": false, "grid": false, "title": null}},
            "y": {"datum": 152, "type": "quantitative", "axis": {"orient": "right", "values": [-150, -100, -50, 0, 50, 100, 150], "labels": false, "grid": false, "title": null}},
            "text": {"field": "t"}
          }
        }
      ]
    },
    {
      "width": 221,
      "height": 261,
      "resolve": {"axis": {"x": "independent", "y": "independent"}},
      "layer": [
        {
          "data": {"name": "latMeas"},
          "mark": {"type": "point", "filled": true, "size": 22, "strokeWidth": 0.8, "opacity": 1, "clip": true},
          "encoding": {
            "x": {"field": "d", "type": "quantitative", "scale": {"domain": [0, 365], "nice": false, "zero": false}, "axis": {"orient": "bottom", "values": [0, 50, 100, 150, 200, 250, 300, 350], "title": "Day of the year", "titlePadding": 2}},
            "y": {"field": "v", "type": "quantitative", "scale": {"domain": [-50, 225], "nice": false, "zero": false}, "axis": {"orient": "left", "values": [-50, 0, 50, 100, 150, 200], "title": "Latent heat flux (W/m²)", "titlePadding": 5}},
            "stroke": {
              "datum": "Measured daily mean",
              "type": "nominal",
              "scale": {"domain": ["Measured daily mean", "Modelled daily mean", "Measured moving average", "Modelled moving average"], "range": ["#7e4048", "#284a50", "#f01c1c", "#1c1cf0"]},
              "legend": null
            },
            "fill": {
              "datum": "Measured daily mean",
              "type": "nominal",
              "scale": {"domain": ["Measured daily mean", "Modelled daily mean", "Measured moving average", "Modelled moving average"], "range": ["#dcbfc2", "#98bfc4", "transparent", "transparent"]},
              "legend": null
            },
            "shape": {
              "datum": "Measured daily mean",
              "type": "nominal",
              "scale": {"domain": ["Measured daily mean", "Modelled daily mean", "Measured moving average", "Modelled moving average"], "range": ["circle", "triangle-up", "stroke", "stroke"]},
              "legend": null
            }
          }
        },
        {
          "data": {"name": "latMod"},
          "mark": {"type": "point", "filled": true, "size": 22, "strokeWidth": 0.8, "opacity": 1, "clip": true},
          "encoding": {
            "x": {"field": "d", "type": "quantitative", "axis": null},
            "y": {"field": "v", "type": "quantitative", "axis": null},
            "stroke": {"datum": "Modelled daily mean", "type": "nominal", "legend": null},
            "fill": {"datum": "Modelled daily mean", "type": "nominal", "legend": null},
            "shape": {"datum": "Modelled daily mean", "type": "nominal", "legend": null}
          }
        },
        {
          "data": {"name": "latMeasAvg"},
          "mark": {"type": "line", "strokeWidth": 1.5, "clip": true},
          "encoding": {
            "x": {"field": "d", "type": "quantitative", "axis": null},
            "y": {"field": "v", "type": "quantitative", "axis": null},
            "stroke": {"datum": "Measured moving average", "type": "nominal", "legend": null}
          }
        },
        {
          "data": {"name": "latModAvg"},
          "mark": {"type": "line", "strokeWidth": 1.5, "clip": true},
          "encoding": {
            "x": {"field": "d", "type": "quantitative", "axis": null},
            "y": {"field": "v", "type": "quantitative", "axis": null},
            "stroke": {"datum": "Modelled moving average", "type": "nominal", "legend": null}
          }
        },
        {
          "data": {"values": [{"t": "(c)"}]},
          "mark": {"type": "text", "align": "left", "baseline": "middle", "fontSize": 15, "font": "Liberation Serif"},
          "encoding": {
            "x": {"datum": 18, "type": "quantitative", "axis": {"orient": "top", "values": [0, 50, 100, 150, 200, 250, 300, 350], "labels": false, "grid": false, "title": null}},
            "y": {"datum": 207, "type": "quantitative", "axis": {"orient": "right", "values": [-50, 0, 50, 100, 150, 200], "labels": false, "grid": false, "title": null}},
            "text": {"field": "t"}
          }
        }
      ]
    },
    {
      "width": 221,
      "height": 261,
      "resolve": {"axis": {"x": "independent", "y": "independent"}},
      "layer": [
        {
          "data": {"name": "latDiff"},
          "mark": {"type": "point", "shape": "square", "filled": false, "size": 13, "strokeWidth": 0.9, "opacity": 1, "clip": true},
          "encoding": {
            "x": {"field": "d", "type": "quantitative", "scale": {"domain": [0, 365], "nice": false, "zero": false}, "axis": {"orient": "bottom", "values": [0, 50, 100, 150, 200, 250, 300, 350], "title": "Day of the year", "titlePadding": 2}},
            "y": {"field": "v", "type": "quantitative", "scale": {"domain": [-175, 175], "nice": false, "zero": false}, "axis": {"orient": "left", "values": [-150, -100, -50, 0, 50, 100, 150], "title": "Δ Latent heat flux (W/m²)", "titlePadding": 7}},
            "stroke": {
              "datum": "(Meas. - Mod.) Daily mean",
              "type": "nominal",
              "scale": {"domain": ["(Meas. - Mod.) Daily mean", "(Meas. - Mod.) Moving average", "(Meas. - Mod.) Overall mean"], "range": ["#2a2a2a", "#454545", "#b0b0b0"]},
              "legend": null
            }
          }
        },
        {
          "data": {"name": "latDiffAvg"},
          "mark": {"type": "line", "strokeWidth": 1.2, "clip": true},
          "encoding": {
            "x": {"field": "d", "type": "quantitative", "axis": null},
            "y": {"field": "v", "type": "quantitative", "axis": null},
            "stroke": {"datum": "(Meas. - Mod.) Moving average", "type": "nominal", "legend": null}
          }
        },
        {
          "data": {"values": [{"m": 12}]},
          "mark": {"type": "rule", "strokeWidth": 1.6},
          "encoding": {
            "y": {"field": "m", "type": "quantitative", "axis": null},
            "stroke": {"datum": "(Meas. - Mod.) Overall mean", "type": "nominal", "legend": null}
          }
        },
        {
          "data": {"values": [{"t": "(d)"}]},
          "mark": {"type": "text", "align": "left", "baseline": "middle", "fontSize": 15, "font": "Liberation Serif"},
          "encoding": {
            "x": {"datum": 18, "type": "quantitative", "axis": {"orient": "top", "values": [0, 50, 100, 150, 200, 250, 300, 350], "labels": false, "grid": false, "title": null}},
            "y": {"datum": 151, "type": "quantitative", "axis": {"orient": "right", "values": [-150, -100, -50, 0, 50, 100, 150], "labels": false, "grid": false, "title": null}},
            "text": {"field": "t"}
          }
        }
      ]
    }
  ],
  "config": {
    "font": "Liberation Serif",
    "view": {"stroke": "black", "strokeWidth": 1.4},
    "axis": {
      "domain": false,
      "grid": true,
      "gridColor": "#8c8c8c",
      "gridDash": [1, 2.5],
      "gridWidth": 0.8,
      "tickColor": "black",
      "tickSize": -4,
      "tickWidth": 0.8,
      "labelFont": "Liberation Serif",
      "labelFontSize": 8.5,
      "labelColor": "#222",
      "labelPadding": 8,
      "labelFlush": false,
      "minExtent": 0,
      "titleFont": "Liberation Serif",
      "titleFontSize": 14,
      "titleFontWeight": "normal",
      "titleColor": "#111"
    },
    "legend": {
      "labelFont": "Liberation Serif",
      "labelFontSize": 8.5,
      "labelColor": "#111",
      "strokeColor": "black",
      "fillColor": "white",
      "cornerRadius": 0,
      "labelLimit": 200
    }
  }
}
